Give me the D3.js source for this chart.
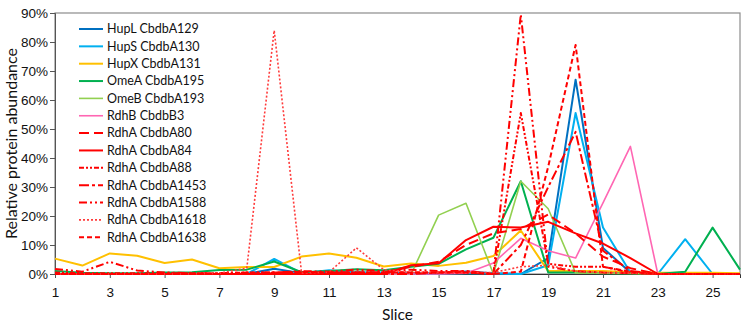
<!DOCTYPE html>
<html>
<head>
<meta charset="utf-8">
<script src="https://cdn.jsdelivr.net/npm/d3@7"></script>
<style>
  body { margin: 0; background: #fff; }
  svg { font-family: Lato, "Open Sans", sans-serif; }
</style>
</head>
<body>
<svg id="chart" width="743" height="328"></svg>
<script>
var slices = [1,2,3,4,5,6,7,8,9,10,11,12,13,14,15,16,17,18,19,20,21,22,23,24,25,26];
var xTicks = [1,3,5,7,9,11,13,15,17,19,21,23,25];
var yTicks = [0,10,20,30,40,50,60,70,80,90];

var hupL   = [0,0,0,0,0,0,0,0,1.8,0.3,0.5,0.5,0.3,0.2,0.3,0.9,0.3,0,5.5,67,9,0.5,0,0,0,0];
var hupS   = [0,0,0,0,0,0,0,0,5.2,0.3,1.3,0.5,0.5,0.2,0.2,0.3,0.2,0,3,55.5,16,0.5,0,12,0,0];
var hupX   = [5.3,2.9,7.1,6.3,3.8,5,2,2.4,2.4,6,7.1,5.6,2.6,3.6,2.8,3.9,6.2,15,1,1,1,0.6,0.4,0.4,0.4,0.3];
var omeA   = [1,0.4,0.3,0.3,0.5,0.6,1.4,1.5,4.3,0.6,1,1.6,1.3,2.5,3.5,8.5,12.5,32,0.5,0.5,0.3,0.3,0,0.8,16,1.5];
var omeB   = [0,0,0,0,0,0,0,0,0,0,0,0,0,0,20.3,24.4,0,32,22.5,0.4,0.3,0.2,0,0,0,0];
var rdhB   = [0,0,0,0,0,0,0,0,0,0,0,0,0,0,0,0.3,3.8,12.3,8,5.5,24.5,44,0,0,0,0];
var a80    = [0,0,0,0,0,0,0,0,0.3,0.5,0.5,0.5,0.5,2.5,4.2,10,14,15.5,20.5,14,6,2,0,0,0,0];
var a84    = [0,0,0,0,0,0,0,0,0,0,0,0,0,3,3.7,11.7,16.3,16,18,14,10.5,5.5,0,0,0,0];
var a88    = [0.5,0.3,0.3,0.3,0.3,0.3,0.3,0.5,0.5,0.5,0.5,0.5,0.5,0.5,0.5,0.5,0,55.5,3.5,2.5,2.5,0.5,0,0,0,0];
var a1453  = [0,0,0,0,0,0,0,0,0,0,0,0,0,0,0.5,1,0,10,30,49,8,1,0,0,0,0];
var a1588  = [1.7,0.8,4.2,1.2,0.5,0.3,0.3,0.5,0.5,1,0.8,1.5,1,1.5,1,1,0,89.5,2.5,1,0.5,0.3,0,0,0,0];
var a1618  = [0,0,0,0,0,0,0.3,2,84,0.3,0.6,9,1.5,0.5,0.5,0.5,0.5,2.5,3,1,0.5,0.3,0,0,0,0];
var a1638  = [0,0,0,0,0,0,0,0,0.5,0.8,0.5,0.5,0.5,0.5,0.5,0.5,0,0.8,37,79,2.5,0.8,0,0,0,0];

var series = [
  { name: "HupL CbdbA129",  values: hupL,  color: "#0070c0", w: 2,   dash: null },
  { name: "HupS CbdbA130",  values: hupS,  color: "#00b0f0", w: 2,   dash: null },
  { name: "HupX CbdbA131",  values: hupX,  color: "#ffc000", w: 2,   dash: null },
  { name: "OmeA CbdbA195",  values: omeA,  color: "#00b050", w: 2,   dash: null },
  { name: "OmeB CbdbA193",  values: omeB,  color: "#92d050", w: 1.6, dash: null },
  { name: "RdhB CbdbB3",    values: rdhB,  color: "#ff66b3", w: 1.6, dash: null },
  { name: "RdhA CbdbA80",   values: a80,   color: "#ff0000", w: 2,   dash: "10,5" },
  { name: "RdhA CbdbA84",   values: a84,   color: "#ff0000", w: 2,   dash: null },
  { name: "RdhA CbdbA88",   values: a88,   color: "#ff0000", w: 2,   dash: "5,2,2,2,2,2" },
  { name: "RdhA CbdbA1453", values: a1453, color: "#ff0000", w: 2,   dash: "10,3,3,3" },
  { name: "RdhA CbdbA1588", values: a1588, color: "#ff0000", w: 2,   dash: "8,3,2,3,2,3" },
  { name: "RdhA CbdbA1618", values: a1618, color: "#ff3b3b", w: 1.6, dash: "2,2" },
  { name: "RdhA CbdbA1638", values: a1638, color: "#ff0000", w: 2,   dash: "5,3" }
];

var margin = { top: 13, right: 3, bottom: 54, left: 55 };
var width = 743 - margin.left - margin.right,
    height = 328 - margin.top - margin.bottom;

var svg = d3.select("#chart");
var g = svg.append("g").attr("transform", "translate(" + margin.left + "," + margin.top + ")");

var x = d3.scaleLinear().domain([1, 26]).range([0, width]);
var y = d3.scaleLinear().domain([0, 90]).range([height, 0]);

// frame
g.append("rect")
  .attr("x", 0).attr("y", 0)
  .attr("width", width).attr("height", height)
  .attr("fill", "none").attr("stroke", "#8c8c8c").attr("stroke-width", 1.2);

// y axis
var yAxis = g.append("g")
  .call(d3.axisLeft(y).tickValues(yTicks).tickSize(5).tickFormat(function(d){ return d + "%"; }));
yAxis.select(".domain").attr("stroke", "#555");
yAxis.selectAll(".tick line").attr("stroke", "#555");
yAxis.selectAll("text").attr("font-size", 13.5).attr("fill", "#111").attr("x", -7);

// x axis
var xAxis = g.append("g")
  .attr("transform", "translate(0," + height + ")")
  .call(d3.axisBottom(x).tickValues(xTicks).tickSize(4).tickFormat(d3.format("d")));
xAxis.select(".domain").attr("stroke", "#333");
xAxis.selectAll(".tick line").attr("stroke", "#555");
xAxis.selectAll("text").attr("font-size", 13.5).attr("fill", "#111").attr("dy", "1.2em");

// titles
svg.append("text")
  .attr("transform", "translate(17," + (margin.top + height / 2) + ") rotate(-90)")
  .attr("text-anchor", "middle")
  .attr("font-size", 16)
  .attr("fill", "#111")
  .text("Relative protein abundance");

svg.append("text")
  .attr("x", margin.left + width / 2)
  .attr("y", 320)
  .attr("text-anchor", "middle")
  .attr("font-size", 15.5)
  .attr("fill", "#111")
  .text("Slice");

// lines
var line = d3.line()
  .x(function(d, i){ return x(slices[i]); })
  .y(function(d){ return y(d); });

g.selectAll(".series")
  .data(series)
  .enter().append("path")
  .attr("class", "series")
  .attr("d", function(d){ return line(d.values); })
  .attr("fill", "none")
  .attr("stroke", function(d){ return d.color; })
  .attr("stroke-width", function(d){ return d.w; })
  .attr("stroke-dasharray", function(d){ return d.dash; })
  .attr("stroke-linejoin", "round");

// legend
var legend = svg.append("g").attr("transform", "translate(79,29)");
var rows = legend.selectAll(".row")
  .data(series)
  .enter().append("g")
  .attr("class", "row")
  .attr("transform", function(d, i){ return "translate(0," + (i * 17.35) + ")"; });

rows.append("line")
  .attr("x1", 0).attr("x2", 24)
  .attr("stroke", function(d){ return d.color; })
  .attr("stroke-width", function(d){ return d.w; })
  .attr("stroke-dasharray", function(d){ return d.dash; });

rows.append("text")
  .attr("x", 28)
  .attr("dy", "0.35em")
  .attr("font-size", 12.5)
  .attr("fill", "#111")
  .text(function(d){ return d.name; });
</script>
</body>
</html>
